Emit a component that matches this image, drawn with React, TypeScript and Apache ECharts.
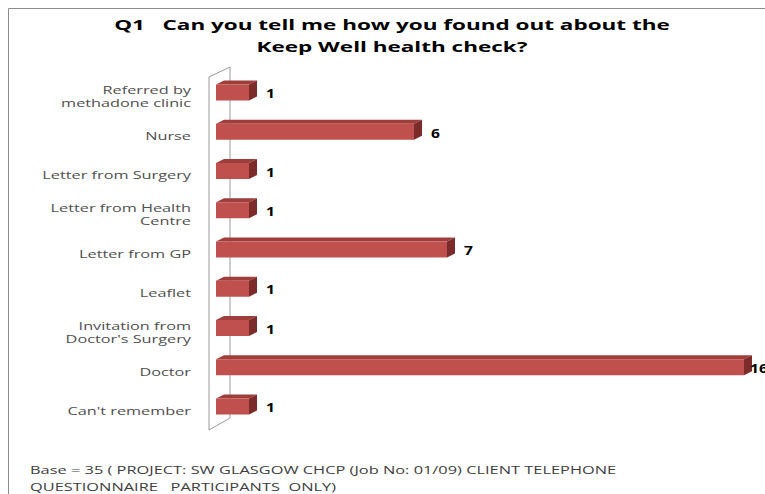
import React, { useEffect, useRef } from "react";
import * as echarts from "echarts";

const categories = [
  "Referred by\nmethadone clinic",
  "Nurse",
  "Letter from Surgery",
  "Letter from Health\nCentre",
  "Letter from GP",
  "Leaflet",
  "Invitation from\nDoctor's Surgery",
  "Doctor",
  "Can't remember",
];
const values = [1, 6, 1, 1, 7, 1, 1, 16, 1];
const titleLines = ["Q1   Can you tell me how you found out about the", "Keep Well health check?"];
const footLines = [
  "Base = 35 ( PROJECT: SW GLASGOW CHCP (Job No: 01/09) CLIENT TELEPHONE",
  "QUESTIONNAIRE   PARTICIPANTS  ONLY)",
];

const FRONT = "#c0504d";
const TOP = "#9e3d3a";
const SIDE = "#7b2b29";

export default function App() {
  const ref = useRef<HTMLDivElement>(null);
  useEffect(() => {
    if (!ref.current) return;
    const chart = echarts.init(ref.current, undefined, { renderer: "svg" });
    const txt = (
      text: string,
      x: number,
      y: number,
      font: string,
      fill: string,
      align: string,
      scaleX: number
    ) => ({
      type: "text",
      x,
      y,
      scaleX,
      z: 10,
      style: {
        text,
        x: 0,
        y: 0,
        font,
        fill,
        align,
        textAlign: align,
        verticalAlign: "middle",
        textVerticalAlign: "middle",
      },
    });
    chart.setOption({
      animation: false,
      backgroundColor: "#ffffff",
      grid: { left: 216, top: 77, height: 353, width: 16.5 * 33, outerBoundsMode: "none" },
      xAxis: { type: "value", min: 0, max: 16.5, show: false },
      yAxis: {
        type: "category",
        inverse: true,
        data: categories,
        axisLine: { show: false },
        axisTick: { show: false },
        axisLabel: { show: false },
      },
      graphic: [
        {
          type: "rect",
          shape: { x: 8.5, y: 8.5, width: 900, height: 600 },
          style: { fill: "none", stroke: "#8c8c8c", lineWidth: 1 },
          z: 1,
        },
        {
          type: "polygon",
          shape: { points: [[209, 77], [230, 67], [230, 418], [209, 430]] },
          style: { fill: "#ffffff", stroke: "#9a9a9a", lineWidth: 1 },
          z: 1,
        },
        txt(titleLines[0], 392, 25, "bold 15px 'Open Sans'", "#000000", "center", 1.5),
        txt(titleLines[1], 392, 47, "bold 15px 'Open Sans'", "#000000", "center", 1.5),
        txt(footLines[0], 30, 470, "10.5px 'Open Sans'", "#404040", "left", 1.56),
        txt(footLines[1], 30, 487, "10.5px 'Open Sans'", "#404040", "left", 1.56),
      ],
      series: [
        {
          type: "custom",
          coordinateSystem: "cartesian2d",
          encode: { x: 0, y: 1 },
          data: values.map((v, i) => [v, i]),
          z: 5,
          renderItem: (params: any, api: any) => {
            const idx = api.value(1);
            const v = api.value(0);
            const c = api.coord([0, idx]);
            const e = api.coord([v, idx]);
            const x0 = c[0];
            const x1 = e[0];
            const cy = c[1];
            const top = cy - 12;
            const bottom = cy + 4;
            const dx = 8;
            const dy = 4;
            const lx = Math.min(x1 + dx + 9, 750);
            return {
              type: "group",
              children: [
                {
                  type: "polygon",
                  shape: { points: [[x0, top], [x0 + dx, top - dy], [x1 + dx, top - dy], [x1, top]] },
                  style: { fill: TOP },
                },
                {
                  type: "polygon",
                  shape: { points: [[x1, top], [x1 + dx, top - dy], [x1 + dx, bottom - dy], [x1, bottom]] },
                  style: { fill: SIDE },
                },
                {
                  type: "rect",
                  shape: { x: x0, y: top, width: x1 - x0, height: bottom - top },
                  style: { fill: FRONT },
                },
                {
                  type: "text",
                  x: lx,
                  y: cy - 3,
                  scaleX: 1.3,
                  style: {
                    text: String(values[idx]),
                    x: 0,
                    y: 0,
                    font: "bold 12px 'Open Sans'",
                    fill: "#000000",
                    align: "left",
                    textAlign: "left",
                    verticalAlign: "middle",
                    textVerticalAlign: "middle",
                  },
                },
                {
                  type: "text",
                  x: 191,
                  y: cy,
                  scaleX: 1.48,
                  style: {
                    text: categories[idx],
                    x: 0,
                    y: 0,
                    font: "11px 'Open Sans'",
                    lineHeight: 13,
                    fill: "#505050",
                    align: "right",
                    textAlign: "right",
                    verticalAlign: "middle",
                    textVerticalAlign: "middle",
                  },
                },
              ],
            };
          },
        },
      ],
    });
    return () => chart.dispose();
  }, []);
  return (
    <div
      ref={ref}
      style={{ position: "fixed", left: 0, top: 0, width: 765, height: 494, background: "#fff" }}
    />
  );
}
